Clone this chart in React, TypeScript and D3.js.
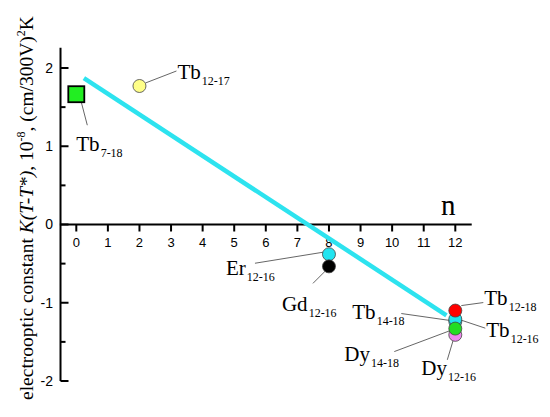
import React, { useEffect, useRef } from 'react';
import * as d3 from 'd3';

// number of carbon atoms n, electrooptic constant K(T-T*)
const pointNames = ['Tb', 'Tb', 'Er', 'Gd', 'Dy', 'Tb', 'Tb', 'Dy', 'Tb'];
const pointSubs = ['7-18', '12-17', '12-16', '12-16', '12-16', '14-18', '12-16', '14-18', '12-18'];
const pointN = [0, 2, 8, 8, 12, 12, 12, 12, 12];
const pointK = [1.665, 1.77, -0.38, -0.535, -1.41, -1.24, -1.21, -1.33, -1.1];
const pointFill = ['#22ee22', '#ffff88', '#22e4f0', '#000000', '#ee88ee', '#22e4f0', '#22e4f0', '#22dd22', '#ff0000'];

// linear fit
const fitN = [0.24, 11.72];
const fitK = [1.87, -1.16];

const xTicks = [0, 1, 2, 3, 4, 5, 6, 7, 8, 9, 10, 11, 12];
const yTicks = [-2, -1, 0, 1, 2];
const yMinorTicks = [-1.5, -0.5, 0.5, 1.5];

// label placement relative to the point centre: text anchor and leader line ends
const labelLayout = [
    { tx: 0, ty: 57, x1: 5, y1: 8, x2: 11, y2: 31 },
    { tx: 38, ty: -7, x1: 6, y1: -3, x2: 37, y2: -15 },
    { tx: -103, ty: 21, x1: -74, y1: 9, x2: -6, y2: -2 },
    { tx: -47, ty: 45, x1: -16, y1: 17, x2: -3, y2: 4 },
    { tx: -34, ty: 40, x1: -2, y1: 5, x2: -8, y2: 25 },
    { tx: -103, ty: -3, x1: -54, y1: -8, x2: -5, y2: -1 },
    { tx: 31, ty: 18, x1: 6, y1: 1, x2: 30, y2: 9 },
    { tx: -111, ty: 32, x1: -61, y1: 23, x2: -5, y2: 2 },
    { tx: 29, ty: -6, x1: 6, y1: -5, x2: 28, y2: -8 },
];

const W = 550;
const H = 417;

export default function App() {
    const svgRef = useRef<SVGSVGElement>(null);

    useEffect(() => {
        const svg = d3.select(svgRef.current);
        svg.selectAll('*').remove();

        const x = d3.scaleLinear().domain([0, 12]).range([76.3, 455.3]);
        const y = d3.scaleLinear().domain([-2, 2]).range([381, 68]);

        const serif = '"Liberation Serif", "Times New Roman", serif';
        const sans = '"Liberation Sans", Arial, sans-serif';

        // y axis
        const yAxis = svg.append('g');
        yAxis.append('line')
            .attr('x1', x(-0.5)).attr('x2', x(-0.5))
            .attr('y1', y(2.26)).attr('y2', y(-2))
            .attr('stroke', '#000').attr('stroke-width', 2);
        yAxis.selectAll('.maj').data(yTicks).join('line')
            .attr('x1', x(-0.5)).attr('x2', x(-0.5) + 8)
            .attr('y1', d => y(d)).attr('y2', d => y(d))
            .attr('stroke', '#000').attr('stroke-width', 2);
        yAxis.selectAll('.min').data(yMinorTicks).join('line')
            .attr('x1', x(-0.5)).attr('x2', x(-0.5) + 5)
            .attr('y1', d => y(d)).attr('y2', d => y(d))
            .attr('stroke', '#000').attr('stroke-width', 2);
        yAxis.selectAll('text').data(yTicks).join('text')
            .attr('x', 53).attr('y', d => y(d)).attr('dy', '0.35em')
            .attr('text-anchor', 'end')
            .attr('font-family', sans).attr('font-size', 14)
            .text(d => String(d));

        // x axis
        const xAxis = svg.append('g');
        xAxis.append('line')
            .attr('x1', x(-0.52)).attr('x2', x(12.52))
            .attr('y1', y(0)).attr('y2', y(0))
            .attr('stroke', '#000').attr('stroke-width', 2);
        xAxis.selectAll('line.t').data(xTicks).join('line')
            .attr('x1', d => x(d)).attr('x2', d => x(d))
            .attr('y1', y(0)).attr('y2', y(0) + 7)
            .attr('stroke', '#000').attr('stroke-width', 2);
        xAxis.selectAll('text').data(xTicks).join('text')
            .attr('x', d => x(d)).attr('y', y(0) + 22)
            .attr('text-anchor', 'middle')
            .attr('font-family', sans).attr('font-size', 13)
            .text(d => String(d));

        svg.append('text')
            .attr('x', 441).attr('y', 215)
            .attr('font-family', serif).attr('font-size', 29)
            .text('n');

        // y axis title
        const title = svg.append('text')
            .attr('transform', 'translate(33,208) rotate(-90)')
            .attr('text-anchor', 'middle')
            .attr('font-family', serif).attr('font-size', 19.5);
        title.append('tspan').text('electrooptic constant  ');
        title.append('tspan').attr('font-style', 'italic').text('K(T-T*)');
        title.append('tspan').text(', 10');
        title.append('tspan').attr('font-size', 12).attr('dy', -8).text('-8');
        title.append('tspan').attr('dy', 8).text(', (cm/300V)');
        title.append('tspan').attr('font-size', 12).attr('dy', -8).text('2');
        title.append('tspan').attr('dy', 8).text('K');

        // fit line
        const line = d3.line<number>().x(d => x(fitN[d])).y(d => y(fitK[d]));
        svg.append('path')
            .attr('d', line([0, 1]))
            .attr('stroke', '#2de3ef').attr('stroke-width', 4.5)
            .attr('fill', 'none');

        const idx = d3.range(pointN.length);

        // leader lines
        svg.append('g').selectAll('line').data(idx).join('line')
            .attr('x1', i => x(pointN[i]) + labelLayout[i].x1)
            .attr('y1', i => y(pointK[i]) + labelLayout[i].y1)
            .attr('x2', i => x(pointN[i]) + labelLayout[i].x2)
            .attr('y2', i => y(pointK[i]) + labelLayout[i].y2)
            .attr('stroke', '#555').attr('stroke-width', 0.9);

        // markers
        const marks = svg.append('g');
        idx.forEach(i => {
            if (i === 0) {
                marks.append('rect')
                    .attr('x', x(pointN[i]) - 8).attr('y', y(pointK[i]) - 8)
                    .attr('width', 16).attr('height', 16)
                    .attr('fill', pointFill[i]).attr('stroke', '#000').attr('stroke-width', 1.8);
            } else {
                marks.append('circle')
                    .attr('cx', x(pointN[i])).attr('cy', y(pointK[i]))
                    .attr('r', 6.5)
                    .attr('fill', pointFill[i]).attr('stroke', '#444').attr('stroke-width', 0.8);
            }
        });

        // labels
        const labels = svg.append('g').attr('font-family', serif);
        idx.forEach(i => {
            const t = labels.append('text')
                .attr('x', x(pointN[i]) + labelLayout[i].tx)
                .attr('y', y(pointK[i]) + labelLayout[i].ty)
                .attr('font-size', 21);
            t.append('tspan').text(pointNames[i]);
            t.append('tspan').attr('font-size', 12).attr('dy', 6).attr('dx', 1).text(pointSubs[i]);
        });
    }, []);

    return (
        <svg ref={svgRef} width={W} height={H}
            style={{ position: 'absolute', left: 0, top: 0, background: '#fff' }} />
    );
}
